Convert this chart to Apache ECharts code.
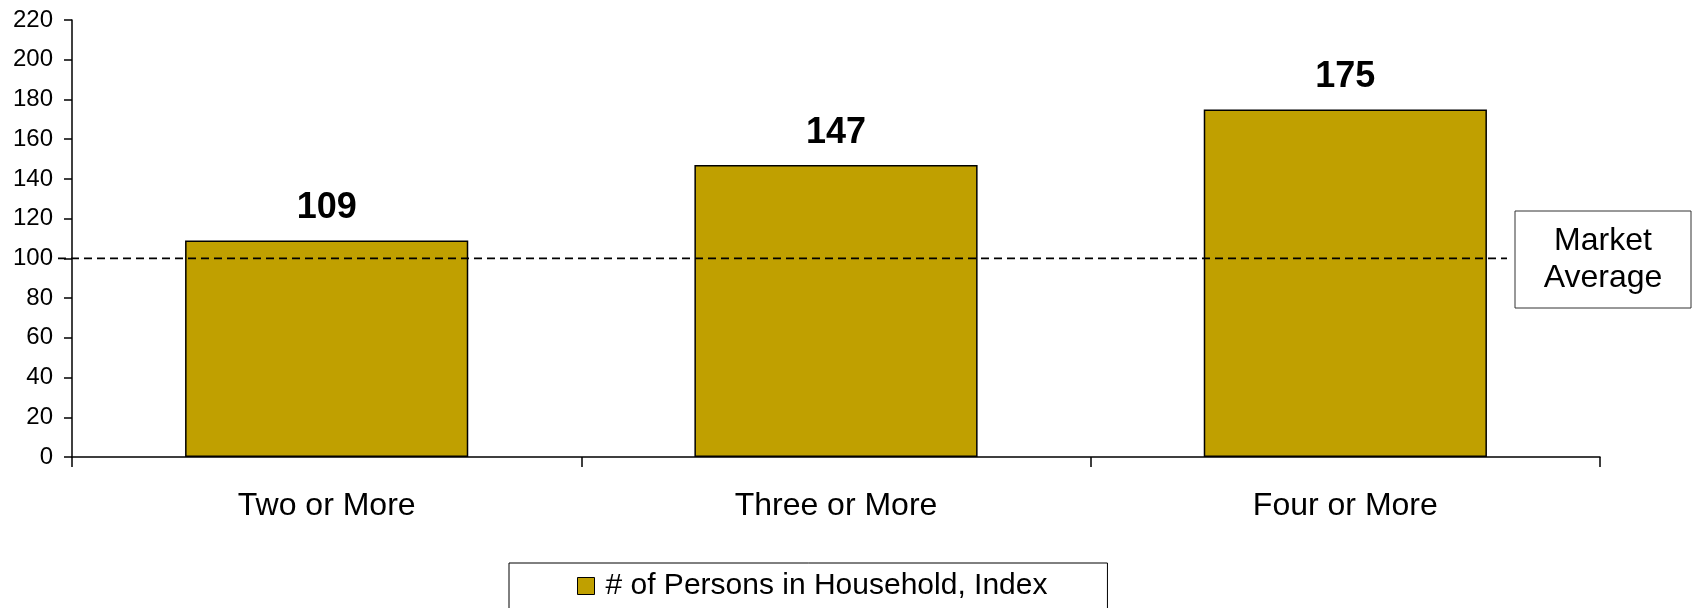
<!DOCTYPE html>
<html>
<head>
<meta charset="utf-8">
<style>
  html, body { margin: 0; padding: 0; background: #ffffff; }
  #chart { width: 1695px; height: 608px; }
</style>
<script src="https://cdn.jsdelivr.net/npm/echarts@6/dist/echarts.min.js"></script>
</head>
<body>
<div id="chart"></div>
<script>
const categories = ['Two or More', 'Three or More', 'Four or More'];
const indexValues = [109, 147, 175];
const seriesName = '# of Persons in Household, Index';
const marketAverage = 100;
const marketLabel = ['Market', 'Average'];
const yMin = 0, yMax = 220, yStep = 20;

const FONT = '"Liberation Sans", Arial, sans-serif';
const chart = echarts.init(document.getElementById('chart'), null, { renderer: 'canvas' });

chart.setOption({
  animation: false,
  backgroundColor: '#ffffff',
  grid: { left: 72, right: 95, top: 20, bottom: 151, containLabel: false },
  legend: {
    data: [{ name: seriesName, icon: 'rect' }],
    left: 509,
    top: 563,
    padding: [8, 60, 30, 68],
    borderColor: '#000000',
    borderWidth: 1,
    itemWidth: 17,
    itemHeight: 17,
    itemStyle: { borderColor: '#000000', borderWidth: 1 },
    textStyle: { fontFamily: FONT, fontSize: 30, color: '#000000', padding: [0, 0, 0, 6] }
  },
  xAxis: {
    type: 'category',
    data: categories,
    axisLine: { lineStyle: { color: '#000000', width: 1.5 } },
    axisTick: { show: true, length: 10, lineStyle: { color: '#000000', width: 1.5 } },
    axisLabel: { fontFamily: FONT, fontSize: 32, color: '#000000', margin: 33 },
    splitLine: { show: false }
  },
  yAxis: {
    type: 'value',
    min: yMin,
    max: yMax,
    interval: yStep,
    axisLine: { show: true, lineStyle: { color: '#000000', width: 1.5 } },
    axisTick: { show: true, length: 8, lineStyle: { color: '#000000', width: 1.5 } },
    axisLabel: { fontFamily: FONT, fontSize: 24, color: '#000000', margin: 19 },
    splitLine: { show: false }
  },
  series: [{
    name: seriesName,
    type: 'bar',
    data: indexValues,
    barWidth: '55.6%',
    itemStyle: { color: '#C0A000', borderColor: '#000000', borderWidth: 1.5 },
    label: {
      show: true,
      position: 'top',
      distance: 14,
      fontFamily: FONT,
      fontSize: 36,
      fontWeight: 'bold',
      color: '#000000'
    }
  }]
});

const yAvg = chart.convertToPixel({ yAxisIndex: 0 }, marketAverage);
chart.setOption({
  graphic: [
    {
      type: 'line',
      z: 5,
      shape: { x1: 58, y1: yAvg, x2: 1507, y2: yAvg },
      style: { stroke: '#000000', lineWidth: 1.8, lineDash: [8, 5] }
    },
    {
      type: 'rect',
      z: 5,
      shape: { x: 1515, y: 211, width: 176, height: 97 },
      style: { fill: '#ffffff', stroke: '#333333', lineWidth: 1 }
    },
    {
      type: 'text',
      z: 6,
      x: 1603,
      y: 259.5,
      style: {
        text: marketLabel.join('\n'),
        fontFamily: FONT,
        fontSize: 32,
        lineHeight: 37,
        fill: '#000000',
        align: 'center',
        verticalAlign: 'middle'
      }
    }
  ]
});
</script>
</body>
</html>
